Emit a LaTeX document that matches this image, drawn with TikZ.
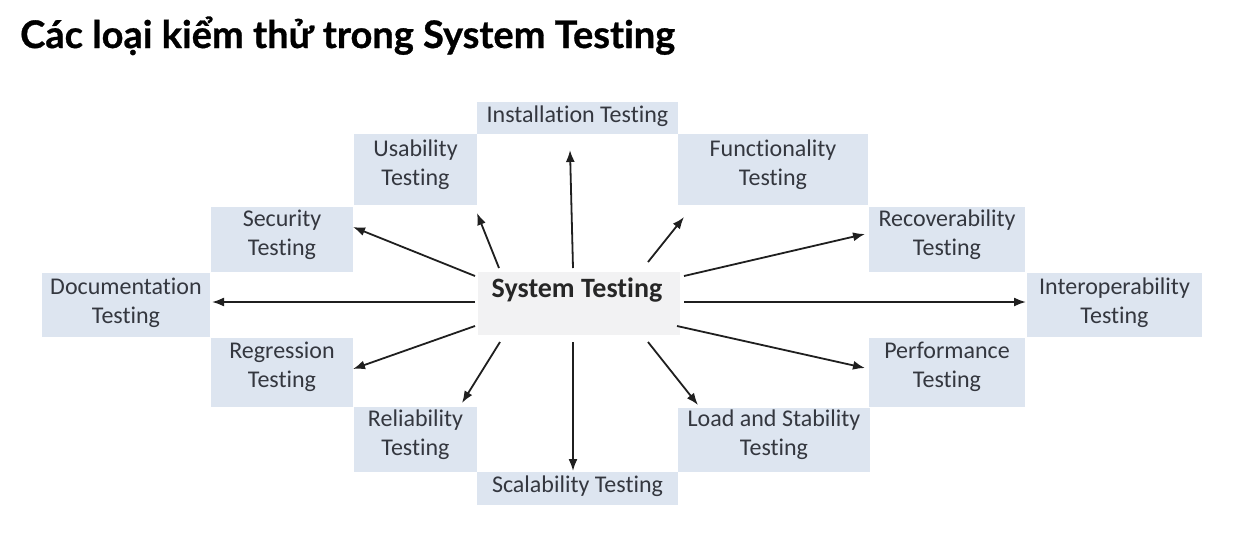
\documentclass[tikz,border=0pt]{standalone}
\usepackage{fontspec}
\setmainfont{Carlito}[Ligatures=NoCommon]
\newfontfamily\titlefont{Lato}[Ligatures=NoCommon,BoldFeatures={FakeBold=0.8}]
\usetikzlibrary{arrows.meta}
\definecolor{boxfill}{RGB}{221,229,240}
\definecolor{sysfill}{RGB}{242,242,243}
\definecolor{txtc}{RGB}{52,55,63}
\tikzset{
  bx/.style={rectangle, draw=none, fill=boxfill, inner sep=0pt},
  sysbx/.style={rectangle, draw=none, fill=sysfill, inner sep=0pt},
  tx/.style={text=txtc, align=center, inner sep=0pt, font=\fontsize{24}{29}\selectfont},
  arr/.style={draw=black!88, line width=1.8pt, -{Latex[length=12pt,width=9pt]}},
}
\newcommand\mybox[8]{%
  \node[#1, minimum width=#4, minimum height=#5] (#2) at (#3) {};
  \node[tx] (#2t) at (#6,#7) {#8};}
\begin{document}
\begin{tikzpicture}[x=1pt,y=-1pt]
\useasboundingbox (0,0) rectangle (1236,539);
\fill[white] (0,0) rectangle (1236,539);
\node[anchor=base west, inner sep=0pt, font=\titlefont\bfseries\fontsize{38}{44}\selectfont] (title) at (20,48) {Các loại kiểm thử trong System Testing};
% boxes
\mybox{bx}{inst}{577.5,118}{201}{32}{577.5}{116}{Installation Testing}
\mybox{bx}{usab}{415.5,169.5}{123}{71}{415.5}{164.5}{Usability\\Testing}
\mybox{bx}{func}{773,169.5}{190}{71}{773}{164.5}{Functionality\\Testing}
\mybox{bx}{sec}{282,239.5}{142}{65}{282}{235}{Security\\Testing}
\mybox{bx}{recov}{947,239.5}{156}{65}{947}{235}{Recoverability\\Testing}
\mybox{bx}{doc}{126,305}{168}{64}{126}{302.5}{Documentation\\Testing}
\mybox{bx}{inter}{1114.5,305}{175}{64}{1114.5}{302.5}{Interoperability\\Testing}
\mybox{bx}{regr}{282,372.5}{142}{69}{282}{366.5}{Regression\\Testing}
\mybox{bx}{perf}{947,372.5}{156}{69}{947}{366.5}{Performance\\Testing}
\mybox{bx}{rel}{415.5,439.5}{123}{65}{415.5}{434.5}{Reliability\\Testing}
\mybox{bx}{load}{774,440}{192}{64}{774}{434.5}{Load and Stability\\Testing}
\mybox{bx}{scal}{577.5,488.5}{201}{33}{577.5}{486}{Scalability Testing}
\node[sysbx, minimum width=202, minimum height=63] (sys) at (579,303.5) {};
\node[tx, text=black!85, font=\bfseries\fontsize{28}{32}\selectfont] (syst) at (577,290) {System Testing};
% arrow start points (around System Testing)
\coordinate (s-inst) at (573,268);
\coordinate (s-usab) at (499,268);
\coordinate (s-sec) at (475,276);
\coordinate (s-doc) at (475,302);
\coordinate (s-regr) at (475,326);
\coordinate (s-rel) at (500,342);
\coordinate (s-scal) at (573,342);
\coordinate (s-load) at (648,342);
\coordinate (s-perf) at (677,326);
\coordinate (s-inter) at (684,302);
\coordinate (s-recov) at (684,276);
\coordinate (s-func) at (648,262);
% arrow tips near targets
\coordinate (e-inst) at (570,150);
\coordinate (e-usab) at (477,213);
\coordinate (e-sec) at (353,227);
\coordinate (e-doc) at (212,302);
\coordinate (e-regr) at (353,369);
\coordinate (e-rel) at (462,403);
\coordinate (e-scal) at (573,471);
\coordinate (e-load) at (698,405);
\coordinate (e-perf) at (865,368);
\coordinate (e-inter) at (1026,302);
\coordinate (e-recov) at (865,234);
\coordinate (e-func) at (684,217);
\foreach \n in {inst,usab,sec,doc,regr,rel,scal,load,perf,inter,recov,func}
  \draw[arr] (s-\n) -- (e-\n);
\end{tikzpicture}
\end{document}
